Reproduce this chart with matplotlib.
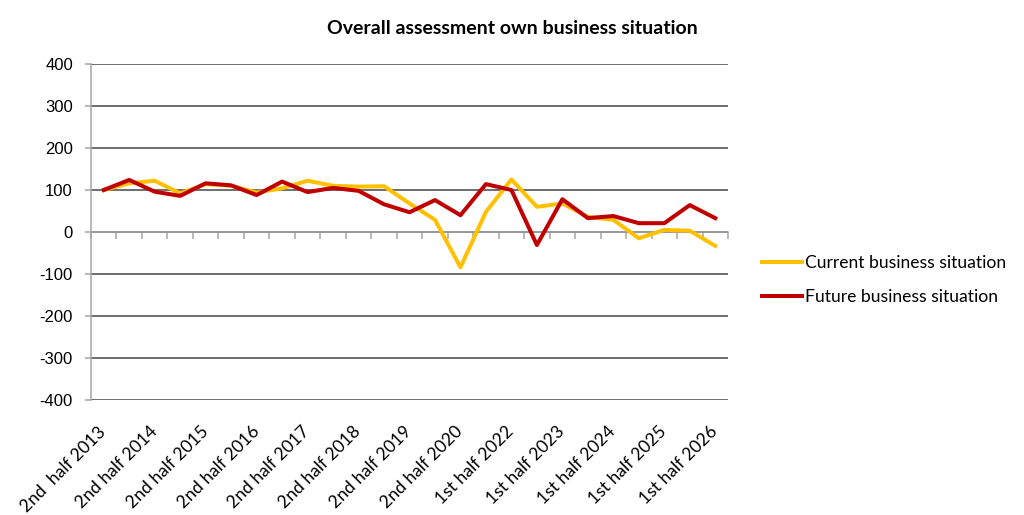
import matplotlib
matplotlib.use("Agg")
import matplotlib.pyplot as plt

# half-year survey periods (1st half 2021 not in the series)
periods = [
    "2nd  half 2013", "1st half 2014", "2nd half 2014", "1st half 2015",
    "2nd half 2015", "1st half 2016", "2nd half 2016", "1st half 2017",
    "2nd half 2017", "1st half 2018", "2nd half 2018", "1st half 2019",
    "2nd half 2019", "1st half 2020", "2nd half 2020", "2nd half 2021",
    "1st half 2022", "2nd half 2022", "1st half 2023", "2nd half 2023",
    "1st half 2024", "2nd half 2024", "1st half 2025", "2nd half 2025",
    "1st half 2026",
]
current = [100, 116, 122, 92, 114, 110, 94, 104, 122, 110, 108, 109, 68,
           29, -84, 48, 125, 60, 68, 36, 29, -15, 5, 3, -33]
future = [100, 124, 96, 86, 116, 111, 88, 120, 95, 105, 98, 66, 47,
          76, 40, 114, 100, -31, 78, 33, 38, 21, 21, 64, 33]

yticks = [-400, -300, -200, -100, 0, 100, 200, 300, 400]

num_font = ["Liberation Sans", "DejaVu Sans"]
text_font = ["Lato", "DejaVu Sans"]

fig = plt.figure(figsize=(10.24, 5.15), dpi=100)
ax = fig.add_axes([91 / 1024, 1 - 400 / 515, 637 / 1024, 336 / 515])

x = list(range(len(periods)))
ax.plot(x, current, color="#FFC000", lw=2.9, label="Current business situation", zorder=3)
ax.plot(x, future, color="#C00000", lw=2.9, label="Future business situation", zorder=4)

ax.set_xlim(-0.5, len(periods) - 0.5)
ax.set_ylim(-400, 400)
ax.set_yticks(yticks)
ax.set_yticklabels([str(v) for v in yticks], family=num_font, fontsize=12)
ax.grid(axis="y", color="#474747", lw=1.1)
ax.set_axisbelow(True)

# horizontal axis sits at zero, tick marks between categories
ax.spines["bottom"].set_position(("data", 0))
ax.spines["bottom"].set_color("#A6A6A6")
ax.spines["bottom"].set_linewidth(1.1)
ax.spines["bottom"].set_zorder(2)
ax.spines["left"].set_color("#A6A6A6")
ax.spines["left"].set_linewidth(1.1)
ax.spines["top"].set_visible(False)
ax.spines["right"].set_visible(False)
ax.set_xticks([i - 0.5 for i in range(len(periods) + 1)])
ax.set_xticklabels([])
ax.tick_params(axis="x", direction="out", length=5, color="#A6A6A6", width=1.1)
ax.tick_params(axis="y", direction="out", length=4, color="#A6A6A6", width=1.1, pad=9)

# category labels along the bottom edge
sec = ax.secondary_xaxis("bottom")
sec.set_xticks(x[::2])
sec.set_xticklabels(periods[::2], rotation=45, ha="right", va="center",
                    rotation_mode="anchor", family=text_font, fontsize=12.6)
sec.tick_params(length=0, pad=21)
sec.spines["bottom"].set_visible(False)

fig.text(0.5, 1 - 28 / 515, "Overall assessment own business situation",
         ha="center", va="center", fontsize=14, fontweight="bold", family=text_font)

fig.legend(loc="center left", bbox_to_anchor=(753 / 1024, 1 - 280 / 515),
           frameon=False, prop={"family": text_font, "size": 12.6},
           handlelength=2.3, handletextpad=0.15, labelspacing=1.0, borderpad=0)

fig.savefig("out.png", dpi=100)
